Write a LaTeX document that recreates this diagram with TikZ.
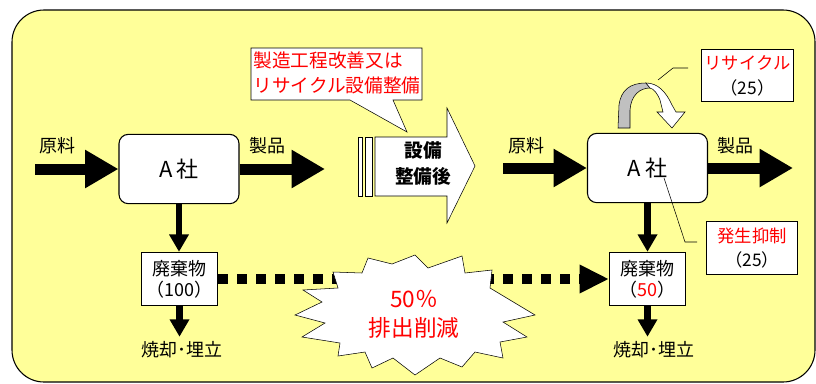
\documentclass[tikz,border=0pt]{standalone}
\usepackage{fontspec}
\setmainfont{Noto Sans CJK JP}
\usepackage{tikz}
\usetikzlibrary{arrows.meta}
\usetikzlibrary{positioning}

\definecolor{bgyellow}{HTML}{FFFF99}
\definecolor{recgray}{HTML}{C0C0C0}

\begin{document}
\begin{tikzpicture}[x=0.75pt,y=-0.75pt,thick,
	font=\fontsize{13.5}{16}\selectfont,
	company node/.style={draw,fill=white,rounded corners=7pt,minimum width=90pt,minimum height=52pt,inner sep=0pt,
		font=\fontsize{16.5}{18}\selectfont},
	waste node/.style={draw,fill=white,align=center,minimum width=57pt,minimum height=40pt,inner sep=0pt},
	note node/.style={draw,fill=white,align=center,minimum width=68.5pt,minimum height=39.5pt,inner sep=0pt,
		font=\fontsize{13}{18.5}\selectfont},
	fat arrow/.style={line width=8.25pt,-{Triangle[length=25pt,width=27pt]}},
	down arrow/.style={line width=5pt,-{Triangle[length=13pt,width=14pt]}},
	dot arrow/.style={line width=7.5pt,dash pattern=on 7.5pt off 6.75pt,-{Triangle[length=22pt,width=20pt]}}]
	
	\useasboundingbox (0,0) rectangle (816,383);
	\draw[fill=bgyellow,rounded corners=24pt] (12,10) rectangle (815,382);
	
	% before / after
	\node[company node] (compA) at (179,169) {A\kern3pt 社};
	\node[company node] (compB) at (647.5,168) {A\kern3pt 社};
	\node[waste node] (wasteA) at (179.5,279) {廃棄物\\（100）};
	\node[waste node] (wasteB) at (647.5,279) {廃棄物\\（\textcolor{red}{50}）};
	\node (burnA) at (182,350) {焼却･埋立};
	\node (burnB) at (654,350) {焼却･埋立};
	
	\node (rawA) at (57,146) {原料};
	\node (prodA) at (267,146) {製品};
	\node (rawB) at (526,146) {原料};
	\node (prodB) at (735,146) {製品};
	
	\coordinate (inA) at (35,169);
	\coordinate (outA) at (325,169);
	\coordinate (inB) at (503,168);
	\coordinate (outB) at (793,168);
	
	\draw[fat arrow] (inA) -- (compA.west);
	\draw[fat arrow] (compA.east) -- (outA);
	\draw[fat arrow] (inB) -- (compB.west);
	\draw[fat arrow] (compB.east) -- (outB);
	
	\draw[down arrow] (compA.south) -- (compA.south |- wasteA.north);
	\draw[down arrow] (wasteA.south) -- (wasteA.south |- burnA.north);
	\draw[down arrow] (compB.south) -- (compB.south |- wasteB.north);
	\draw[down arrow] (wasteB.south) -- (wasteB.south |- burnB.north);
	
	% reduction
	\draw[dot arrow] (wasteA.east) -- (wasteB.west);
	\filldraw[fill=white,thin] (415,255) -- (428,268) -- (462,256) -- (465,273) -- (492,270) -- (490,288)
		-- (535,315) -- (503,322) -- (527,337) -- (500,342) -- (503,358) -- (475,352) -- (462,367)
		-- (440,358) -- (415,375) -- (393,358) -- (372,368) -- (365,352) -- (338,356) -- (340,343)
		-- (302,337) -- (325,323) -- (295,315) -- (322,302) -- (303,290) -- (338,288) -- (333,272)
		-- (362,273) -- (368,258) -- (392,264) -- cycle;
	\node[text=red,align=center,font=\fontsize{17}{22}\selectfont] (cut) at (414,314) {50％\\排出削減};
	
	% big arrow
	\filldraw[fill=white,thin] (375,137) -- (447,137) -- (447,108) -- (475,166) -- (447,223) -- (447,196)
		-- (375,196) -- cycle;
	\filldraw[fill=white,thin] (358,137) rectangle (362,196);
	\filldraw[fill=white,thin] (365,137) rectangle (372,196);
	\node[align=center,font=\fontsize{14}{19}\selectfont\bfseries] (after) at (423,163.5) {設備\\整備後};
	
	\filldraw[fill=white,thin] (251,48) -- (422,48) -- (422,100) -- (393,100) -- (407,132) -- (350,100)
		-- (251,100) -- cycle;
	\node[text=red,align=left,anchor=west,inner sep=0pt,font=\fontsize{14}{18.5}\selectfont] (kaizen)
		at (253,73) {製造工程改善又は\\リサイクル設備整備};
	
	% recycle loop
	\filldraw[fill=recgray,thin] (618,128) -- (619,105) .. controls (621,90) and (630,83) .. (646,83)
		-- (650,88) .. controls (640,88) and (631,95) .. (630,110) -- (630,128) -- cycle;
	\filldraw[fill=white,thin] (646,83) .. controls (658,83) and (666,92) .. (672,105) -- (676,112)
		-- (685,112) -- (672,128) -- (657,112) -- (663,112) -- (660,100)
		.. controls (657,93) and (654,89) .. (650,88) -- cycle;
	
	\node[note node] (recycle) at (747.5,75.5) {\textcolor{red}{リサイクル}\\（25）};
	\node[note node] (reduce) at (752,248) {\textcolor{red}{発生抑制}\\（25）};
	
	\coordinate (recTip) at (658,80);
	\coordinate (recEnd) at (688,68);
	\draw[thin] (recTip) -- ++(15,-12) -- (recEnd);
	\coordinate (redTip) at (664,178);
	\coordinate (redEnd) at (697,242);
	\draw[thin] (redTip) -- (685,242) -- (redEnd);
\end{tikzpicture}
\end{document}
